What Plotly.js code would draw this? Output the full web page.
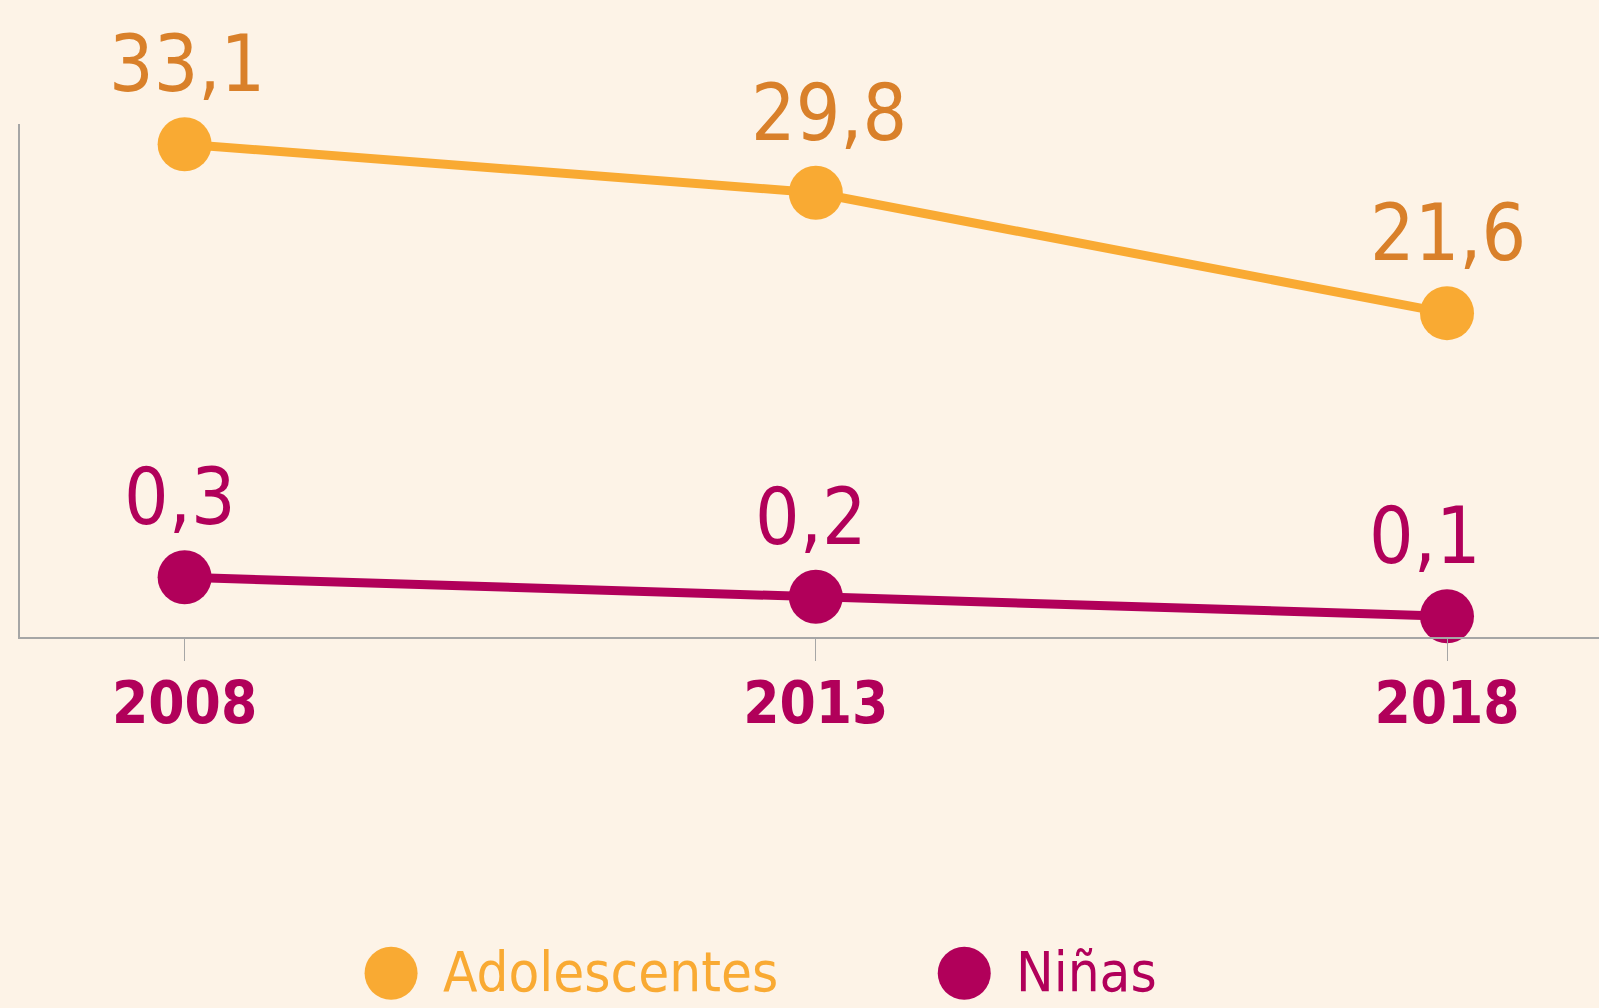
<!DOCTYPE html>
<html>
<head>
<meta charset="utf-8">
<script src="https://cdn.plot.ly/plotly-3.0.1.min.js"></script>
<style>
  html, body { margin: 0; padding: 0; background: #fdf3e7; }
  #chart { width: 1599px; height: 1008px; }
</style>
</head>
<body>
<div id="chart"></div>
<script>
const years = [2008, 2013, 2018];
const tickLabels = ['2008', '2013', '2018'];
const seriesNames = ['Adolescentes', 'Niñas'];
const adolescentes = [33.1, 29.8, 21.6];
const ninas = [0.3, 0.2, 0.1];

const ORANGE = '#f9aa33';
const ORANGE_TXT = '#d9802a';
const MAGENTA = '#b1005a';
const BG = '#fdf3e7';
const FONT = '"DejaVu Sans Condensed", "Liberation Sans Narrow", "Roboto", sans-serif';

// small horizontal nudges of the value labels (style only)
const labelNudgeA = [2, 13, 1];
const labelNudgeN = [-5, -5, -22];

const fmt = v => v.toFixed(1).replace('.', ',');

const traces = [
  {
    x: years, y: adolescentes, name: seriesNames[0], type: 'scatter', mode: 'lines+markers',
    line: {color: ORANGE, width: 9}, marker: {color: ORANGE, size: 54},
    yaxis: 'y', showlegend: false, hoverinfo: 'skip', cliponaxis: false
  },
  {
    x: years, y: ninas, name: seriesNames[1], type: 'scatter', mode: 'lines+markers',
    line: {color: MAGENTA, width: 9}, marker: {color: MAGENTA, size: 54},
    yaxis: 'y2', showlegend: false, hoverinfo: 'skip', cliponaxis: false
  }
];

const annotations = [];
years.forEach((yr, i) => {
  annotations.push({
    x: yr, y: adolescentes[i], xref: 'x', yref: 'y', text: fmt(adolescentes[i]),
    showarrow: false, yanchor: 'middle', xanchor: 'center', yshift: 80, xshift: labelNudgeA[i],
    font: {family: FONT, size: 78, color: ORANGE_TXT}
  });
  annotations.push({
    x: yr, y: ninas[i], xref: 'x', yref: 'y2', text: fmt(ninas[i]),
    showarrow: false, yanchor: 'middle', xanchor: 'center', yshift: 80, xshift: labelNudgeN[i],
    font: {family: FONT, size: 78, color: MAGENTA}
  });
});

// legend (drawn manually so markers can be large)
const legendColors = [ORANGE, MAGENTA];
const legendX = [0.235, 0.598];
const shapes = [];
seriesNames.forEach((nm, i) => {
  const cx = legendX[i];
  shapes.push({
    type: 'circle', xref: 'paper', yref: 'paper', layer: 'above',
    x0: cx - 26.5 / 1578.6, x1: cx + 26.5 / 1578.6,
    y0: -(974 - 637.5 + 26.5) / 513.5, y1: -(974 - 637.5 - 26.5) / 513.5,
    fillcolor: legendColors[i], line: {width: 0}
  });
  annotations.push({
    xref: 'paper', yref: 'paper', x: cx + 50 / 1578.6, y: -(972 - 637.5) / 513.5,
    xanchor: 'left', yanchor: 'middle', showarrow: false, text: nm,
    font: {family: FONT, size: 56, color: legendColors[i]}
  });
});

const layout = {
  width: 1599, height: 1008,
  paper_bgcolor: BG, plot_bgcolor: BG,
  margin: {l: 20.4, r: 0, t: 124, b: 370.5, pad: 0},
  showlegend: false,
  xaxis: {
    range: [2006.696, 2019.204], tickvals: years, ticktext: tickLabels,
    showgrid: false, zeroline: false, showline: true, linecolor: '#a6a6a6', linewidth: 2,
    ticks: 'outside', ticklen: 22, tickwidth: 1, tickcolor: '#a6a6a6',
    ticklabelstandoff: -8,
    tickfont: {family: FONT, size: 58, color: MAGENTA, weight: 'bold'},
    fixedrange: true
  },
  yaxis: {
    range: [-0.45, 34.48], showgrid: false, zeroline: false, showticklabels: false,
    showline: true, linecolor: '#a6a6a6', linewidth: 2, ticks: '', fixedrange: true
  },
  yaxis2: {
    range: [-0.0067, 2.627], overlaying: 'y', side: 'left', showgrid: false, zeroline: false,
    showticklabels: false, showline: false, ticks: '', fixedrange: true
  },
  annotations: annotations,
  shapes: shapes
};

Plotly.newPlot('chart', traces, layout, {displayModeBar: false, staticPlot: true});
</script>
</body>
</html>
